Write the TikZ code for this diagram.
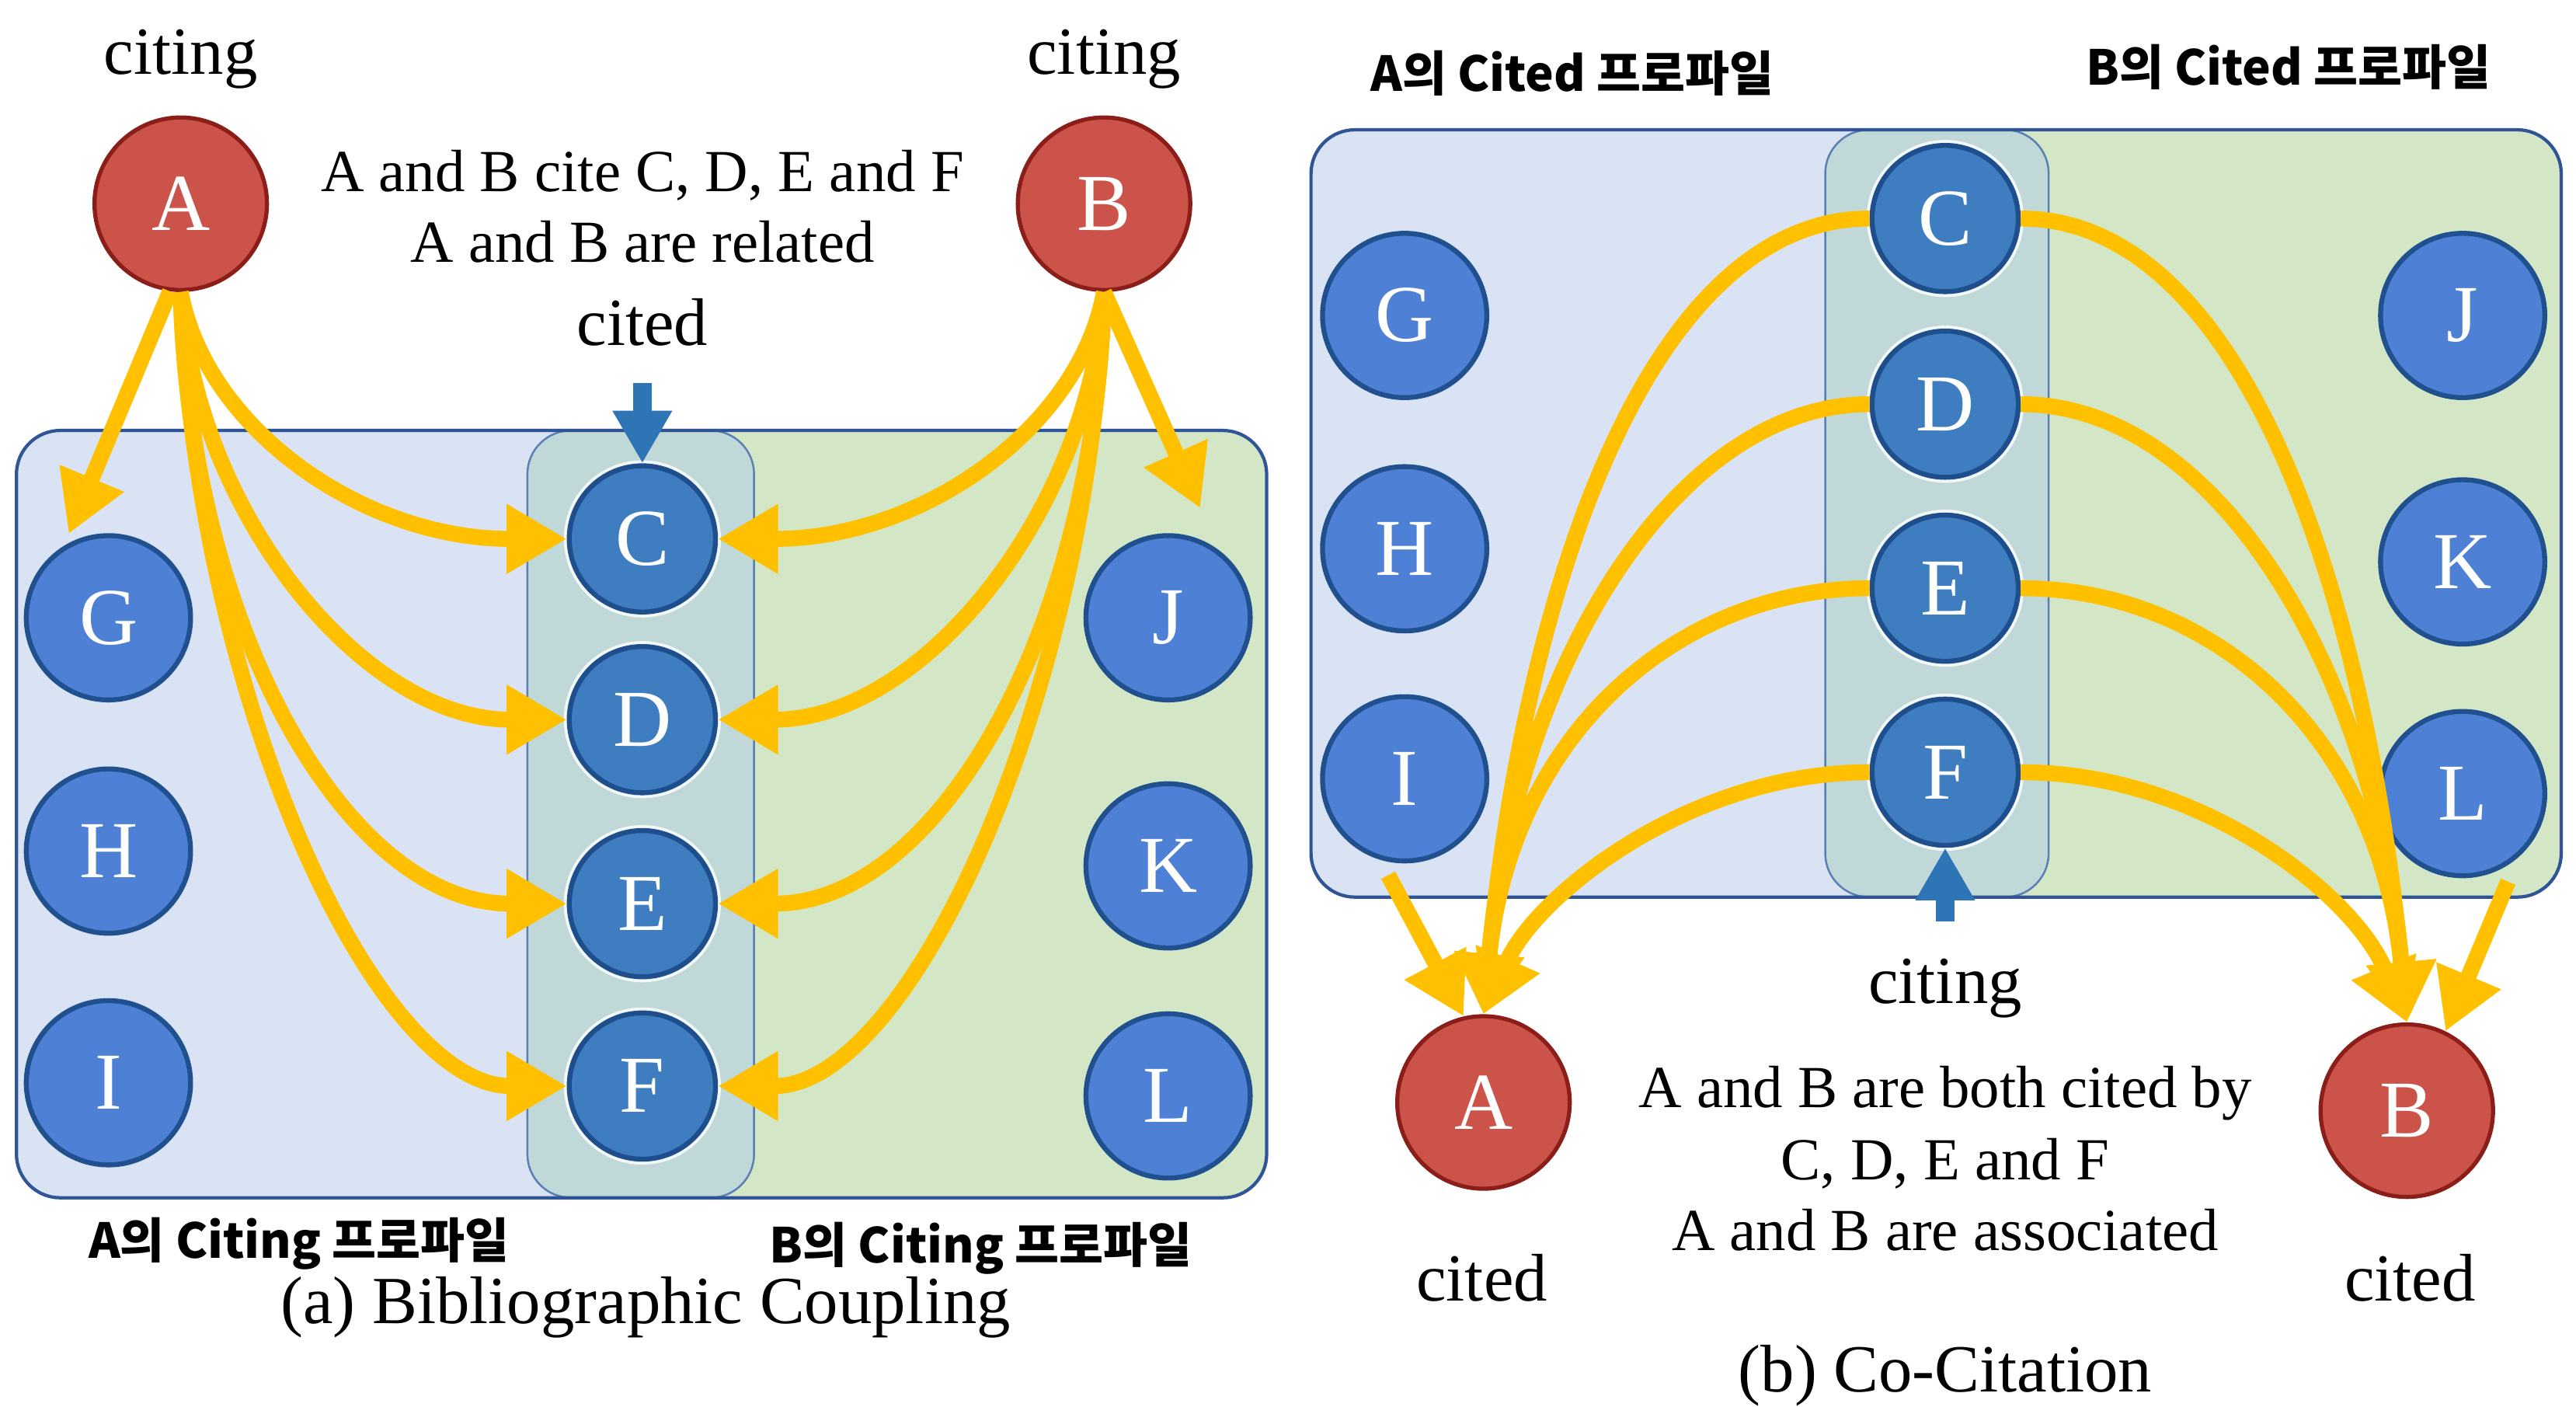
\documentclass[tikz,border=0pt]{standalone}
\usepackage{fontspec}
\setmainfont{Liberation Serif}
\newfontfamily\krfont{Noto Sans CJK KR}
\usetikzlibrary{arrows.meta}
\definecolor{gold}{HTML}{FFC000}
\definecolor{panelblue}{HTML}{D9E3F3}
\definecolor{panelgreen}{HTML}{D3E7C6}
\definecolor{panelmid}{HTML}{C1D8D8}
\definecolor{outerline}{HTML}{2F5597}
\definecolor{midline}{HTML}{5A7FB5}
\definecolor{leafblue}{HTML}{4E81D6}
\definecolor{leafborder}{HTML}{21508F}
\definecolor{midblue}{HTML}{3D7DC0}
\definecolor{midborder}{HTML}{1F4E8C}
\definecolor{paperred}{HTML}{CB534A}
\definecolor{paperborder}{HTML}{8B1E19}
\definecolor{arrowblue}{HTML}{2E75B6}
\begin{document}
\begin{tikzpicture}[x=0.3mm,y=-0.3mm,
  lbl/.style={font=\fontsize{35}{40}\selectfont, inner sep=0, anchor=base},
  desc/.style={font=\fontsize{31}{36}\selectfont, inner sep=0, anchor=base},
  kr/.style={font=\krfont\bfseries\fontsize{25}{30}\selectfont, inner sep=0, anchor=base},
  leaf/.style={circle, fill=leafblue, draw=leafborder, line width=0.9mm, minimum size=30mm, inner sep=0, text=white, font=\fontsize{42}{42}\selectfont},
  hub/.style={circle, fill=midblue, draw=midborder, line width=0.9mm, minimum size=26.7mm, inner sep=0, text=white, font=\fontsize{42}{42}\selectfont, preaction={draw=white, line width=2mm, opacity=.8}},
  paper/.style={circle, fill=paperred, draw=paperborder, line width=0.75mm, minimum size=31.5mm, inner sep=0, text=white, font=\fontsize{42}{42}\selectfont},
  cite/.style={draw=gold, line width=2.9mm, -{Triangle[length=11mm, width=12mm]}},
  pointer/.style={draw=arrowblue, line width=3.3mm, -{Triangle[length=9.6mm, width=10.2mm]}},
  pane/.style={rounded corners=8mm},
]
\useasboundingbox (0,0) rectangle (1568,856);
\fill[white] (0,0) rectangle (1568,856);

% ---------- panel (a) ----------
\fill[panelblue, pane] (10,262) rectangle (459,729);
\fill[panelgreen, pane] (321,262) rectangle (771,729);
\filldraw[fill=panelmid, draw=midline, line width=0.35mm, pane] (321,262) rectangle (459,729);
\draw[outerline, line width=0.6mm, pane] (10,262) rectangle (771,729);

% ---------- panel (b) ----------
\fill[panelblue, pane] (798,79) rectangle (1247,546);
\fill[panelgreen, pane] (1111,79) rectangle (1559,546);
\filldraw[fill=panelmid, draw=midline, line width=0.35mm, pane] (1111,79) rectangle (1247,546);
\draw[outerline, line width=0.6mm, pane] (798,79) rectangle (1559,546);

% ---------- nodes (a) ----------
\node[paper] (Aa) at (110,124) {A};
\node[paper] (Ba) at (672,124) {B};
\node[leaf] (Ga) at (66,376) {G};
\node[leaf] (Ha) at (66,518) {H};
\node[leaf] (Ia) at (66,659) {I};
\node[leaf] (Ja) at (711,376) {J};
\node[leaf] (Ka) at (711,527) {K};
\node[leaf] (La) at (711,667) {L};
\node[hub] (Ca) at (391,328) {C};
\node[hub] (Da) at (391,438) {D};
\node[hub] (Ea) at (391,550) {E};
\node[hub] (Fa) at (391,661) {F};

\node[lbl] (citingAa) at (110,45) {citing};
\node[lbl] (citingBa) at (672,45) {citing};
\node[desc] (desca1) at (391,116.7) {A and B cite C, D, E and F};
\node[desc] (desca2) at (391,159.6) {A and B are related};
\node[lbl] (citeda) at (391,210.3) {cited};
\coordinate (citedtail) at (391,233);
\node[kr] (profAa) at (182,766) {A의 Citing 프로파일};
\node[kr] (profBa) at (597,768.6) {B의 Citing 프로파일};
\node[lbl] (capa) at (393,805.7) {(a) Bibliographic Coupling};

% ---------- nodes (b) ----------
\node[paper] (Ab) at (903,671) {A};
\node[paper] (Bb) at (1465,676) {B};
\node[leaf] (Gb) at (855,192) {G};
\node[leaf] (Hb) at (855,334) {H};
\node[leaf] (Ib) at (855,474) {I};
\node[leaf] (Jb) at (1499,192) {J};
\node[leaf] (Kb) at (1499,342) {K};
\node[leaf] (Lb) at (1499,483) {L};
\node[hub] (Cb) at (1184,133) {C};
\node[hub] (Db) at (1184,246) {D};
\node[hub] (Eb) at (1184,358) {E};
\node[hub] (Fb) at (1184,470) {F};

\node[kr] (profAb) at (957,55.6) {A의 Cited 프로파일};
\node[kr] (profBb) at (1393,52) {B의 Cited 프로파일};
\node[lbl] (citingb) at (1184,610.8) {citing};
\coordinate (citingtail) at (1184,561);
\node[desc] (descb1) at (1184,674) {A and B are both cited by};
\node[desc] (descb2) at (1184,717.8) {C, D, E and F};
\node[desc] (descb3) at (1184,761) {A and B are associated};
\node[lbl] (citedAb) at (902,792) {cited};
\node[lbl] (citedBb) at (1467,792) {cited};
\node[lbl] (capb) at (1184,847) {(b) Co-Citation};

% ---------- arrows (a) ----------
\draw[cite, shorten >=2.4mm] (Aa.-97) -- (Ga.122);
\draw[cite, shorten >=8.4mm] (Ba.-90) -- (Ja.53);
\draw[cite] (Aa.-90) .. controls (125,260) and (220,328) .. (Ca.west);
\draw[cite] (Aa.-90) .. controls (118,310) and (220,438) .. (Da.west);
\draw[cite] (Aa.-90) .. controls (115,380) and (210,550) .. (Ea.west);
\draw[cite] (Aa.-90) .. controls (120,430) and (230,661) .. (Fa.west);
\draw[cite] (Ba.-90) .. controls (657,260) and (562,328) .. (Ca.east);
\draw[cite] (Ba.-90) .. controls (664,310) and (562,438) .. (Da.east);
\draw[cite] (Ba.-90) .. controls (667,380) and (572,550) .. (Ea.east);
\draw[cite] (Ba.-90) .. controls (662,430) and (552,661) .. (Fa.east);
\draw[pointer] (citedtail) -- (Ca.north);

% ---------- arrows (b) ----------
\draw[cite, shorten <=3.2mm] (Ib.-107) -- (Ab.103);
\draw[cite, shorten <=4.8mm] (Lb.-49) -- (Bb.64);
\draw[cite] (Cb.west) .. controls (1003,133) and (928,360) .. (Ab.north);
\draw[cite] (Db.west) .. controls (1018,246) and (922,410) .. (Ab.north);
\draw[cite] (Eb.west) .. controls (1023,358) and (920,445) .. (Ab.north);
\draw[cite] (Fb.west) .. controls (1028,470) and (935,545) .. (Ab.north);
\draw[cite] (Cb.east) .. controls (1365,133) and (1440,360) .. (Bb.north);
\draw[cite] (Db.east) .. controls (1350,246) and (1446,410) .. (Bb.north);
\draw[cite] (Eb.east) .. controls (1345,358) and (1448,445) .. (Bb.north);
\draw[cite] (Fb.east) .. controls (1340,470) and (1433,545) .. (Bb.north);
\draw[pointer] (citingtail) -- (Fb.south);
\end{tikzpicture}
\end{document}
